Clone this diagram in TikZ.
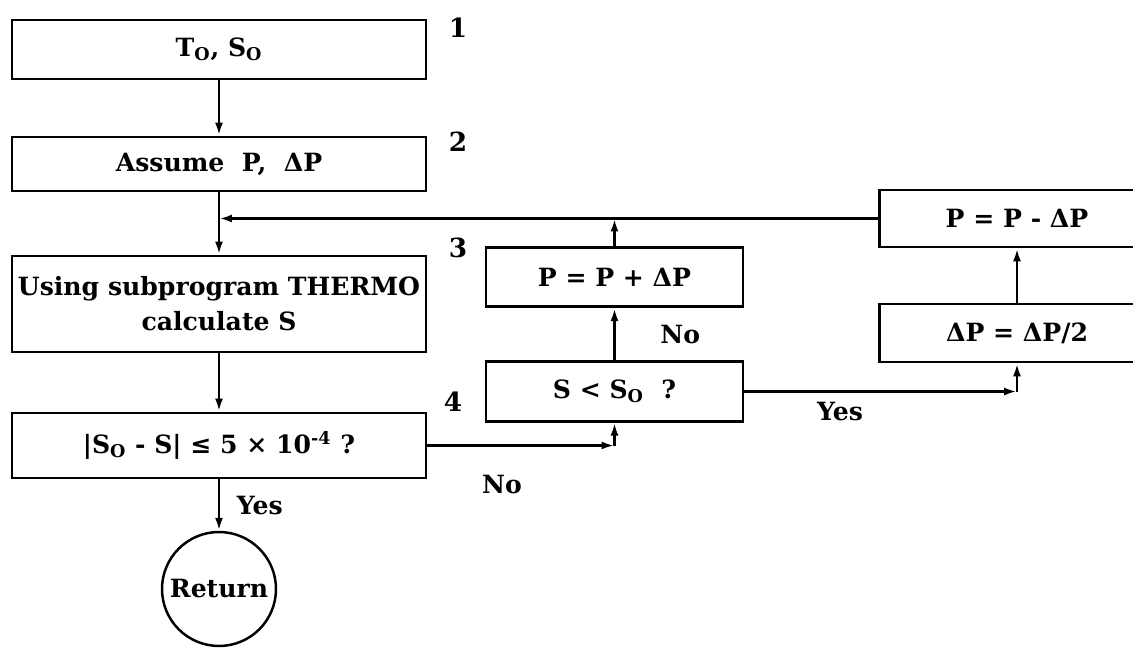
\documentclass[tikz,border=0pt]{standalone}
\usepackage{fontspec}
\setmainfont{DejaVu Serif}
\usetikzlibrary{arrows.meta,positioning}

\begin{document}
\begin{tikzpicture}[x=0.02cm,y=-0.02cm,
  every node/.style={font=\fontsize{14.3}{20}\selectfont\bfseries},
  block/.style={rectangle,draw,line width=1.6pt,align=center,inner sep=2pt},
  mainblock/.style={block,minimum width=8.28cm},
  sideblock/.style={block,minimum width=5.14cm,minimum height=1.19cm},
  farblock/.style={block,minimum width=5.5cm},
  stop/.style={circle,draw,line width=1.4pt,minimum size=2.28cm,inner sep=0pt},
  flow/.style={-{Latex[length=2.6mm,width=1.6mm]},line width=1.6pt},
  tag/.style={font=\fontsize{15}{18}\selectfont\bfseries}
]
  \useasboundingbox (0,0) rectangle (1133,649);

  % main column
  \node[mainblock,minimum height=1.18cm] (start) at (219,49.5) {T\textsubscript{O}, S\textsubscript{O}};
  \node[mainblock,minimum height=1.08cm] (assume) at (219,164) {Assume\ \ P,\ \ ΔP};
  \node[mainblock,minimum height=1.92cm] (thermo) at (219,304) {Using subprogram THERMO\\calculate S};
  \node[mainblock,minimum height=1.3cm] (test) at (219,445.5)
    {|S\textsubscript{O} - S| ≤ 5 × 10\textsuperscript{-4} ?};
  \node[stop] (ret) at (219,589) {Return};

  \node[tag] (n1) at (458,28) {1};
  \node[tag] (n2) at (458,142) {2};
  \node[tag] (n3) at (458,248) {3};
  \node[tag] (n4) at (453,402) {4};

  % side boxes
  \node[sideblock] (inc) at (614.5,277) {P = P + ΔP};
  \node[sideblock] (cmp) at (614.5,391.5) {S < S\textsubscript{O}\ \ ?};
  \node[farblock,minimum height=1.14cm] (dec) at (1017,218.5) {P = P - ΔP};
  \node[farblock,minimum height=1.16cm] (half) at (1017,333) {ΔP = ΔP/2};

  \coordinate (join) at (assume.south |- dec.west);
  \coordinate (nocorner) at (cmp.south |- test.east);
  \coordinate (yescorner) at (half.south |- cmp.east);

  \draw[flow] (start) -- (assume);
  \draw[flow] (assume) -- (thermo);
  \draw[flow] (thermo) -- (test);
  \draw[flow] (test) -- node[right=6pt] {Yes} (ret);

  \draw[flow] (test.east) -- (nocorner);
  \draw[flow] (nocorner) -- (cmp.south);
  \node (nolow) at (502,485) {No};
  \draw[flow] (cmp) -- node[right=22pt] {No} (inc);
  \draw[flow] (inc.north) -- (inc.north |- join);

  \draw[flow] (cmp.east) -- (yescorner);
  \draw[flow] (yescorner) -- (half.south);
  \node (yesright) at (840,412) {Yes};
  \draw[flow] (half) -- (dec);
  \draw[flow] (dec.west) -- (join);
\end{tikzpicture}
\end{document}
